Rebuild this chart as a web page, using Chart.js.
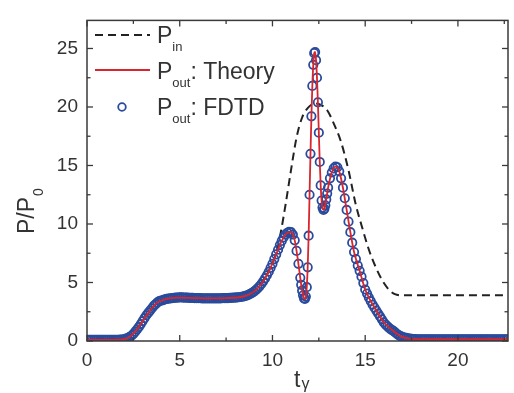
<!DOCTYPE html>
<html><head><meta charset="utf-8">
<script src="https://cdn.jsdelivr.net/npm/chart.js@4.4.1/dist/chart.umd.min.js"></script>
<style>html,body{margin:0;padding:0;background:#fff}#wrap{width:514px;height:393px;position:relative}</style>
</head><body><div id="wrap"><canvas id="c"></canvas></div>
<script>
// ---- tick labels ----
const xTickLabels = [0, 5, 10, 15, 20];
const xMinorTicks = [2.5, 7.5, 12.5, 17.5, 22.5];
const yTickLabels = [0, 5, 10, 15, 20, 25];
const yMinorTicks = [2.5, 7.5, 12.5, 17.5, 22.5];

// ---- P_in (dashed) : [t, P] ----
const pinT = [0,1.8,2.2,2.6,3.0,3.4,3.8,4.2,4.8,6.5,8.2,8.6,9.0,9.4,9.8,10.2,10.45,10.7,11.0,11.3,11.6,11.9,12.3,12.7,13.0,13.3,13.7,14.1,14.5,14.8,15.2,15.6,15.95,16.3,16.6,17.0,22.7];
const pinP = [0.1,0.12,0.25,0.8,1.7,2.6,3.3,3.55,3.7,3.68,3.75,3.9,4.25,4.95,6.0,7.5,9.3,11.6,14.6,17.4,19.1,19.9,20.3,20.1,19.6,18.6,17.0,14.6,11.6,9.9,7.8,6.2,5.1,4.35,4.0,3.9,3.9];

// ---- P_out theory (red line) ----
const theoryT = [0,1.8,2.2,2.6,3.0,3.4,3.8,4.2,4.8,5.5,6.5,7.5,8.2,8.6,9.0,9.4,9.8,10.2,10.5,10.8,11.0,11.2,11.4,11.55,11.7,11.75,11.8,11.85,11.9,11.95,12.0,12.05,12.1,12.15,12.2,12.25,12.3,12.35,12.4,12.45,12.5,12.55,12.6,12.65,12.7,12.75,12.8,12.9,13.0,13.2,13.4,13.6,13.8,14.0,14.2,14.4,14.7,15.0,15.3,15.6,16.0,16.5,17.0,17.5,18.0,22.7];
const theoryP = [0.1,0.12,0.25,0.8,1.7,2.6,3.3,3.55,3.7,3.69,3.65,3.67,3.74,3.88,4.22,4.87,5.92,7.4,8.55,9.25,9.3,8.6,6.6,4.8,3.65,3.6,3.8,4.6,6.3,9.0,12.5,16.0,19.2,21.8,23.6,24.6,24.7,24.0,22.5,20.4,17.8,15.3,13.3,12.0,11.4,11.2,11.3,12.1,13.1,14.4,14.9,14.5,13.1,11.2,9.3,7.6,6.0,4.4,3.4,2.6,1.6,0.88,0.35,0.18,0.15,0.15];

// ---- P_out FDTD (circles): uniform time samples in three segments ----
const fdtdStartA = 0,     fdtdStepA = 0.1;
const fdtdValuesA = [
 0.1,0.1,0.1,0.1,0.1,0.1,0.1,0.1,0.1,0.1,
 0.1,0.1,0.1,0.1,0.1,0.1,0.1,0.1,0.12,0.13,
 0.15,0.2,0.25,0.35,0.45,0.6,0.8,1.0,1.2,1.45,
 1.7,1.95,2.2,2.4,2.6,2.8,3.0,3.15,3.3,3.4,
 3.45,3.5,3.55,3.6,3.62,3.65,3.67,3.68,3.7,3.7,
 3.72,3.72,3.71,3.7,3.7,3.69,3.68,3.68,3.67,3.67,
 3.66,3.66,3.65,3.65,3.65,3.65,3.65,3.65,3.65,3.65,
 3.65,3.65,3.65,3.66,3.66,3.67,3.67,3.68,3.69,3.7,
 3.71,3.72,3.74,3.76,3.79,3.83,3.88,3.95,4.03,4.12,
 4.22,4.35,4.5,4.67,4.87,5.1,5.35,5.62,5.92,6.25,
 6.6,7.0,7.4,7.8,8.2,8.55,8.85,9.1,9.25,9.33,
 9.3,9.1,8.6,7.7,6.6,5.4];
const fdtdStartB = 11.55, fdtdStepB = 0.05;
const fdtdValuesB = [4.8,4.3,3.9,3.65,3.6,3.8,4.6,6.3,9.0,12.5,16.0,19.2,21.8,23.6,24.6,24.7,24.0,22.5,20.4,17.8,15.3,13.3,12.0,11.4,11.2,11.3,11.6,12.1,12.6,13.1];
const fdtdStartC = 13.1,  fdtdStepC = 0.1;
const fdtdValuesC = [
 13.9,14.4,14.75,14.9,14.85,14.5,13.9,13.1,12.2,
 11.2,10.2,9.3,8.4,7.6,7.0,6.45,6.0,5.5,4.95,
 4.4,4.05,3.7,3.4,3.1,2.85,2.6,2.35,2.1,1.85,
 1.6,1.4,1.25,1.1,0.98,0.88,0.75,0.62,0.5,0.42,
 0.35,0.3,0.26,0.23,0.2,0.18,0.17,0.16,0.15,0.15,
 0.15,0.15,0.15,0.15,0.15,0.15,0.15,0.15,0.15,0.15,
 0.15,0.15,0.15,0.15,0.15,0.15,0.15,0.15,0.15,0.15,
 0.15,0.15,0.15,0.15,0.15,0.15,0.15,0.15,0.15,0.15,
 0.15,0.15,0.15,0.15,0.15,0.15,0.15,0.15,0.15,0.15,
 0.15,0.15,0.15,0.15,0.15,0.15,0.15,0.15];

const pairs = (ts, ps) => ts.map((t, i) => ({x: t, y: ps[i]}));
const seg = (start, step, vals) => vals.map((v, i) => ({x: +(start + i * step).toFixed(3), y: v}));
const fdtdPts = [].concat(seg(fdtdStartA, fdtdStepA, fdtdValuesA), seg(fdtdStartB, fdtdStepB, fdtdValuesB), seg(fdtdStartC, fdtdStepC, fdtdValuesC));

const FONT = '"Liberation Sans", Arial, Helvetica, sans-serif';
const TXT = '#333';
const BLUE = '#2a4b9c';
const RED = '#d8262c';

const decor = {
  id: 'decor',
  afterDraw(chart) {
    const {ctx, chartArea: a, scales: {x, y}} = chart;
    ctx.save();
    ctx.strokeStyle = '#3a3a3a';
    ctx.lineWidth = 1.5;
    ctx.strokeRect(a.left, a.top, a.right - a.left, a.bottom - a.top);
    const seg2 = (x1, y1, x2, y2) => { ctx.beginPath(); ctx.moveTo(x1, y1); ctx.lineTo(x2, y2); ctx.stroke(); };
    ctx.lineWidth = 1.3;
    xTickLabels.forEach(v => { const p = x.getPixelForValue(v); seg2(p, a.bottom, p, a.bottom - 6); seg2(p, a.top, p, a.top + 6); });
    xMinorTicks.forEach(v => { if (v > x.max) return; const p = x.getPixelForValue(v); seg2(p, a.bottom, p, a.bottom - 3.5); seg2(p, a.top, p, a.top + 3.5); });
    yTickLabels.forEach(v => { const p = y.getPixelForValue(v); seg2(a.left, p, a.left + 6, p); seg2(a.right, p, a.right - 6, p); });
    yMinorTicks.forEach(v => { if (v > y.max) return; const p = y.getPixelForValue(v); seg2(a.left, p, a.left + 3.5, p); seg2(a.right, p, a.right - 3.5, p); });

    // legend
    ctx.fillStyle = TXT;
    ctx.textBaseline = 'alphabetic';
    ctx.textAlign = 'left';
    const big = '23px ' + FONT, small = '13px ' + FONT;
    const label = (bx, by, sub, rest) => {
      ctx.font = big; ctx.fillText('P', bx, by);
      let cx = bx + ctx.measureText('P').width;
      ctx.font = small; ctx.fillText(sub, cx, by + 8);
      cx += ctx.measureText(sub).width;
      if (rest) { ctx.font = big; ctx.fillText(rest, cx, by); }
    };
    ctx.strokeStyle = '#222'; ctx.lineWidth = 2; ctx.setLineDash([8, 5]);
    seg2(95, 35, 150, 35);
    ctx.setLineDash([]);
    label(157, 43, 'in', '');
    ctx.strokeStyle = RED; ctx.lineWidth = 2;
    seg2(95, 70, 150, 70);
    label(157, 79, 'out', ': Theory');
    ctx.strokeStyle = BLUE; ctx.lineWidth = 1.8;
    ctx.beginPath(); ctx.arc(122, 107, 3.8, 0, Math.PI * 2); ctx.stroke();
    label(157, 115, 'out', ': FDTD');

    // y title P/P0
    ctx.save();
    ctx.translate(34, 234);
    ctx.rotate(-Math.PI / 2);
    ctx.font = '23px ' + FONT; ctx.fillText('P/P', 0, 0);
    const w = ctx.measureText('P/P').width;
    ctx.font = '14px ' + FONT; ctx.fillText('0', w + 1, 9);
    ctx.restore();

    // x title t_gamma
    ctx.font = '23px ' + FONT; ctx.fillText('t', 294, 387);
    const tw = ctx.measureText('t').width;
    ctx.font = '16px ' + FONT; ctx.fillText('\u03b3', 294 + tw + 1, 389);
    ctx.restore();
  }
};

new Chart(document.getElementById('c'), {
  type: 'line',
  data: {
    datasets: [
      {label: 'Pout: Theory', data: pairs(theoryT, theoryP), borderColor: RED, borderWidth: 1.8, pointRadius: 0, fill: false, cubicInterpolationMode: 'monotone', order: 0},
      {label: 'Pout: FDTD', data: fdtdPts, showLine: false, pointStyle: 'circle', pointRadius: 4.2, pointBorderWidth: 1.8, pointBorderColor: BLUE, pointBackgroundColor: 'rgba(0,0,0,0)', order: 1},
      {label: 'Pin', data: pairs(pinT, pinP), borderColor: '#222', borderWidth: 2, borderDash: [8, 5], pointRadius: 0, fill: false, cubicInterpolationMode: 'monotone', order: 2}
    ]
  },
  options: {
    responsive: true, maintainAspectRatio: false, animation: false, devicePixelRatio: 1,
    layout: {padding: {top: 14, right: 1, left: 0, bottom: 0}},
    plugins: {legend: {display: false}, tooltip: {enabled: false}},
    scales: {
      x: {type: 'linear', min: 0, max: 22.7,
          afterFit: s => { s.height = 52; },
          afterBuildTicks: s => { s.ticks = xTickLabels.map(v => ({value: v})); },
          ticks: {autoSkip: false, maxRotation: 0, padding: 8, color: TXT, font: {family: FONT, size: 19}},
          grid: {display: false, drawTicks: false}, border: {display: false}},
      y: {type: 'linear', min: 0, max: 27.4,
          afterFit: s => { s.width = 87; },
          afterBuildTicks: s => { s.ticks = yTickLabels.map(v => ({value: v})); },
          ticks: {autoSkip: false, padding: 9, color: TXT, font: {family: FONT, size: 19}},
          grid: {display: false, drawTicks: false}, border: {display: false}}
    }
  },
  plugins: [decor]
});
</script></body></html>
